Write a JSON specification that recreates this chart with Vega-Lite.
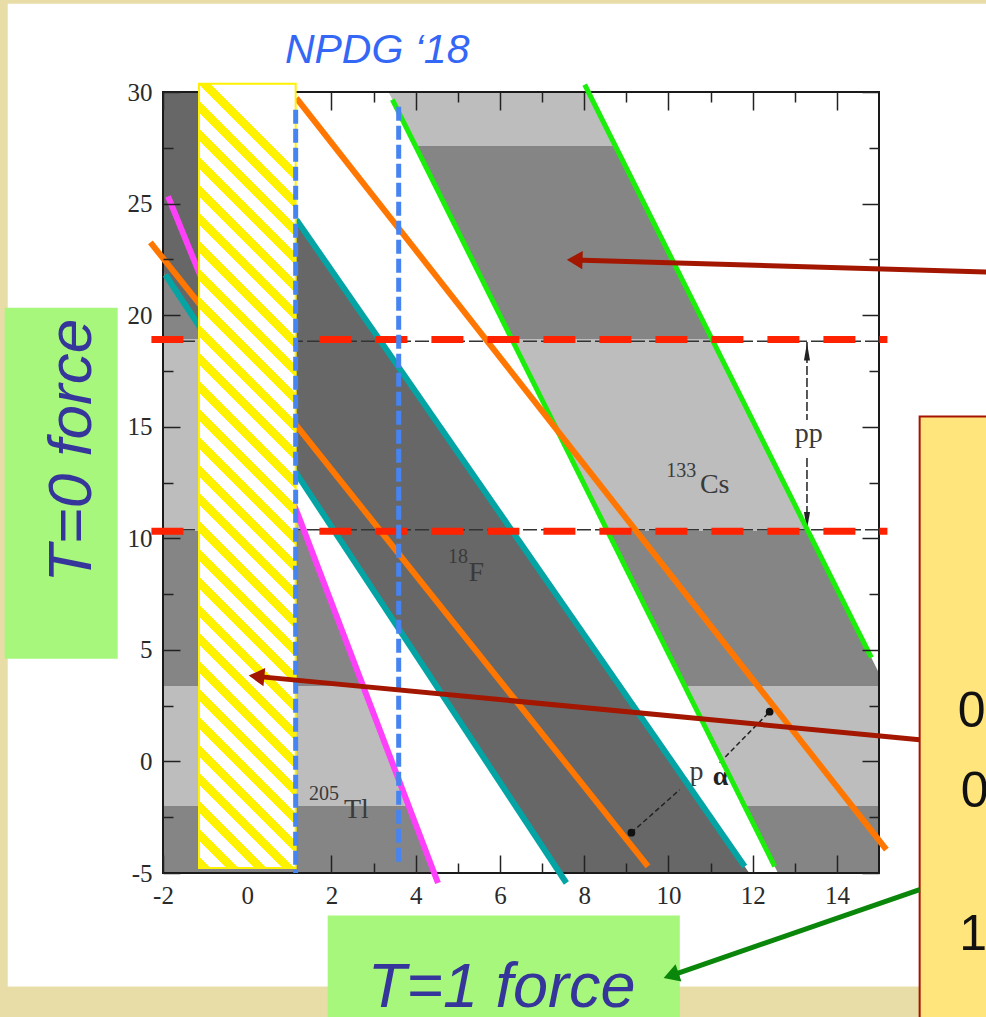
{
"$schema":"https://vega.github.io/schema/vega-lite/v6.json",
"width":716,"height":781,
"autosize":{"type":"none"},
"padding":{"left":163,"top":92,"right":107,"bottom":144},
"background":"#e8dca7",
"config":{"view":{"stroke":null},"axis":{"grid":false,"domain":false}},
"datasets":{
"slide":[{"x":-5.687,"x2":18.5,"y":33.96,"y2":-10.082}],
"tl":[{"y":-5,"x":-2,"x2":4.439},{"y":11.057,"x":-2,"x2":1.205},{"y":25.32,"x":-2,"x2":-1.881},{"y":25.87,"x":-2,"x2":-2}],
"cs":[{"y":-5,"x":12.601,"x2":15},{"y":3.965,"x":10.233,"x2":15},{"y":30,"x":3.355,"x2":8.099}],
"f18":[{"y":-5,"x":7.42,"x2":11.919},{"y":21.973,"x":-2,"x2":2.013},{"y":30,"x":-2,"x2":-0.935}],
"frame":[{"x":-2,"x2":15,"y":-5,"y2":30}],
"ppl":[{"x":-2,"x2":15,"y":18.83},{"x":-2,"x2":15,"y":10.38}],
"pparrow":[{"x":13.29,"y":18.8,"y2":15.3},{"x":13.29,"y":13.6,"y2":10.4}],
"ppheads":[{"x":13.29,"y":18.36,"d":"up"},{"x":13.29,"y":10.79,"d":"down"}],
"pa":[{"x":9.121,"y":-3.194,"x2":10.267,"y2":-1.267},{"x":11.217,"y":-0.056,"x2":12.404,"y2":2.231}],
"paheads":[{"x":9.121,"y":-3.194},{"x":12.404,"y":2.231}],
"lbig":[{"t":"pp","x":13.33,"y":14.337},{"t":"Cs","x":11.098,"y":12.044},{"t":"F","x":5.441,"y":8.068},{"t":"Tl","x":2.592,"y":-2.535},{"t":"p","x":10.664,"y":-0.819}],
"lsmall":[{"t":"133","x":10.303,"y":12.76},{"t":"18","x":5.004,"y":8.892},{"t":"205","x":1.82,"y":-1.715}],
"lbold":[{"t":"α","x":11.236,"y":-1.043}],
"green":[{"s":"gL","x":3.446,"y":29.655},{"s":"gL","x":12.523,"y":-4.705},{"s":"gR","x":8.012,"y":30.327},{"s":"gR","x":14.819,"y":4.648}],
"orange":[{"s":"oU","x":1.167,"y":29.73},{"s":"oU","x":15.175,"y":-3.956},{"s":"oM","x":-2.299,"y":23.26},{"s":"oM","x":9.515,"y":-4.705}],
"teal":[{"s":"tL","x":-1.943,"y":21.81},{"s":"tL","x":7.577,"y":-5.449},{"s":"tU","x":1.167,"y":24.277},{"s":"tU","x":11.811,"y":-4.705}],
"magenta":[{"s":"m","x":-1.881,"y":25.32},{"s":"m","x":1.205,"y":11.057},{"s":"m","x":4.529,"y":-5.449}],
"red":[{"x":-2.275,"x2":15.2,"y":18.91},{"x":-2.275,"x2":15.2,"y":10.31}],
"ybox":[{"x":-1.145,"x2":1.15,"y":30.37,"y2":-4.78}],
"blue":[{"x":1.15,"y":29.2,"y2":-5.0},{"x":3.596,"y":29.34,"y2":-4.72}],
"gboxes":[{"x":-5.758,"x2":-3.076,"y":20.33,"y2":4.6},{"x":1.91,"x2":10.27,"y":-6.91,"y2":-12}],
"nbox":[{"x":15.965,"x2":18.5,"y":15.46,"y2":-12}],
"ntext":[{"t":"0","x":16.87,"y":1.556},{"t":"0","x":16.94,"y":-2.03},{"t":"1","x":16.903,"y":-8.44}],
"t0":[{"t":"T=0 force","x":-3.7,"y":13.93}],
"t1":[{"t":"T=1 force","x":6.041,"y":-10.99}],
"npdg":[{"t":"NPDG ‘18","x":3.085,"y":31.313}],
"shafts":[{"x":17.9,"y":21.91,"x2":7.774,"y2":22.476,"c":"r"},{"x":15.965,"y":0.974,"x2":0.22,"y2":3.812,"c":"r"},{"x":15.965,"y":-5.749,"x2":10.063,"y2":-9.594,"c":"g"}],
"heads":[{"x":7.774,"y":22.476,"a":1.8,"c":"r"},{"x":0.22,"y":3.812,"a":5.5,"c":"r"},{"x":10.063,"y":-9.594,"a":-19,"c":"g"}]
},
"layer":[
{"data":{"name":"slide"},"mark":{"type":"rect","fill":"#ffffff"},
 "encoding":{
  "x":{"field":"x","type":"quantitative","scale":{"domain":[-2,15],"nice":false,"zero":false},
   "axis":{"orient":"bottom","values":[-2,0,2,4,6,8,10,12,14],"ticks":false,"domain":false,"grid":false,"title":null,"labelFont":"Liberation Serif","labelFontSize":25,"labelColor":"#2a2a2a","labelPadding":10,"labelFlush":false,"labelOverlap":false,"labelExpr":"replace(datum.label, '−', '-')","zindex":1}},
  "x2":{"field":"x2"},
  "y":{"field":"y","type":"quantitative","scale":{"domain":[-5,30],"nice":false,"zero":false},
   "axis":{"orient":"left","values":[-5,0,5,10,15,20,25,30],"ticks":false,"domain":false,"grid":false,"title":null,"labelFont":"Liberation Serif","labelFontSize":25,"labelColor":"#2a2a2a","labelPadding":11,"labelFlush":false,"labelOverlap":false,"labelExpr":"replace(datum.label, '−', '-')","zindex":1}},
  "y2":{"field":"y2"}}},
{"data":{"name":"tl"},"mark":{"type":"area","orient":"horizontal","fill":{"gradient":"linear","x1":0,"y1":0,"x2":0,"y2":1,"stops":[{"offset":0,"color":"#858585"},{"offset":0.2255,"color":"#858585"},{"offset":0.2255,"color":"#bdbdbd"},{"offset":0.5041,"color":"#bdbdbd"},{"offset":0.5041,"color":"#858585"},{"offset":0.7279,"color":"#858585"},{"offset":0.7279,"color":"#bdbdbd"},{"offset":0.9028,"color":"#bdbdbd"},{"offset":0.9028,"color":"#858585"},{"offset":1,"color":"#858585"}]}},
 "encoding":{
  "y":{"field":"y","type":"quantitative","axis":{"orient":"left","values":[-2.5,2.5,7.5,12.5,17.5,22.5,27.5],"labels":false,"domain":false,"grid":false,"title":null,"tickSize":-10,"tickWidth":1.5,"tickColor":"#222","zindex":1}},
  "x":{"field":"x","type":"quantitative","axis":{"orient":"bottom","values":[3,5,7,9,11,13],"labels":false,"domain":false,"grid":false,"title":null,"tickSize":-10,"tickWidth":1.5,"tickColor":"#222","zindex":1}},
  "x2":{"field":"x2"}}},
{"data":{"name":"cs"},"mark":{"type":"area","orient":"horizontal","fill":{"gradient":"linear","x1":0,"y1":0,"x2":0,"y2":1,"stops":[{"offset":0,"color":"#bdbdbd"},{"offset":0.0686,"color":"#bdbdbd"},{"offset":0.0686,"color":"#858585"},{"offset":0.3169,"color":"#858585"},{"offset":0.3169,"color":"#bdbdbd"},{"offset":0.5626,"color":"#bdbdbd"},{"offset":0.5626,"color":"#858585"},{"offset":0.76,"color":"#858585"},{"offset":0.76,"color":"#bdbdbd"},{"offset":0.9143,"color":"#bdbdbd"},{"offset":0.9143,"color":"#858585"},{"offset":1,"color":"#858585"}]}},
 "encoding":{
  "y":{"field":"y","type":"quantitative","axis":{"orient":"left","values":[-5,0,5,10,15,20,25,30],"labels":false,"domain":false,"grid":false,"title":null,"tickSize":-17,"tickWidth":1.5,"tickColor":"#222","zindex":1}},
  "x":{"field":"x","type":"quantitative","axis":{"orient":"bottom","values":[-2,2,4,6,8,10,12,14],"labels":false,"domain":false,"grid":false,"title":null,"tickSize":-18,"tickWidth":1.5,"tickColor":"#222","zindex":1}},
  "x2":{"field":"x2"}}},
{"data":{"name":"f18"},"mark":{"type":"area","orient":"horizontal","fill":"#676767"},
 "encoding":{
  "y":{"field":"y","type":"quantitative","axis":{"orient":"right","values":[-5,0,5,10,15,20,25,30],"labels":false,"domain":false,"grid":false,"title":null,"tickSize":-17,"tickWidth":1.5,"tickColor":"#222","zindex":1}},
  "x":{"field":"x","type":"quantitative","axis":{"orient":"top","values":[-2,2,4,6,8,10,12,14],"labels":false,"domain":false,"grid":false,"title":null,"tickSize":-18,"tickWidth":1.5,"tickColor":"#222","zindex":1}},
  "x2":{"field":"x2"}}},
{"data":{"name":"frame"},"mark":{"type":"rect","filled":false,"stroke":"#1a1a1a","strokeWidth":2},
 "encoding":{
  "x":{"field":"x","type":"quantitative","axis":{"orient":"top","values":[3,5,7,9,11,13],"labels":false,"domain":false,"grid":false,"title":null,"tickSize":-10,"tickWidth":1.5,"tickColor":"#222","zindex":1}},
  "x2":{"field":"x2"},
  "y":{"field":"y","type":"quantitative","axis":{"orient":"right","values":[-2.5,2.5,7.5,12.5,17.5,22.5,27.5],"labels":false,"domain":false,"grid":false,"title":null,"tickSize":-10,"tickWidth":1.5,"tickColor":"#222","zindex":1}},
  "y2":{"field":"y2"}}},
{"data":{"name":"ppl"},"mark":{"type":"rule","color":"#333333","strokeWidth":1.5,"strokeDash":[14,4]},
 "encoding":{"x":{"field":"x","type":"quantitative","axis":null},"x2":{"field":"x2"},"y":{"field":"y","type":"quantitative","axis":null}}},
{"data":{"name":"pparrow"},"mark":{"type":"rule","color":"#222222","strokeWidth":1.5,"strokeDash":[9,3]},
 "encoding":{"x":{"field":"x","type":"quantitative","axis":null},"y":{"field":"y","type":"quantitative","axis":null},"y2":{"field":"y2"}}},
{"data":{"name":"ppheads"},"mark":{"type":"point","filled":true,"size":300,"color":"#222222","opacity":1},
 "encoding":{"x":{"field":"x","type":"quantitative","axis":null},"y":{"field":"y","type":"quantitative","axis":null},
  "shape":{"field":"d","type":"nominal","scale":{"domain":["up","down"],"range":["M0,-1L0.35,1L-0.35,1Z","M0,1L0.35,-1L-0.35,-1Z"]},"legend":null}}},
{"data":{"name":"pa"},"mark":{"type":"rule","color":"#222222","strokeWidth":1.5,"strokeDash":[5,3]},
 "encoding":{"x":{"field":"x","type":"quantitative","axis":null},"x2":{"field":"x2"},"y":{"field":"y","type":"quantitative","axis":null},"y2":{"field":"y2"}}},
{"data":{"name":"paheads"},"mark":{"type":"point","filled":true,"size":60,"color":"#111111","opacity":1},
 "encoding":{"x":{"field":"x","type":"quantitative","axis":null},"y":{"field":"y","type":"quantitative","axis":null}}},
{"data":{"name":"lbig"},"mark":{"type":"text","font":"Liberation Serif","fontSize":28,"color":"#3a3a3a","align":"center","baseline":"alphabetic"},
 "encoding":{"x":{"field":"x","type":"quantitative","axis":null},"y":{"field":"y","type":"quantitative","axis":null},"text":{"field":"t"}}},
{"data":{"name":"lsmall"},"mark":{"type":"text","font":"Liberation Serif","fontSize":20,"color":"#3a3a3a","align":"center","baseline":"alphabetic"},
 "encoding":{"x":{"field":"x","type":"quantitative","axis":null},"y":{"field":"y","type":"quantitative","axis":null},"text":{"field":"t"}}},
{"data":{"name":"lbold"},"mark":{"type":"text","font":"Liberation Serif","fontSize":28,"fontWeight":"bold","color":"#222222","align":"center","baseline":"alphabetic"},
 "encoding":{"x":{"field":"x","type":"quantitative","axis":null},"y":{"field":"y","type":"quantitative","axis":null},"text":{"field":"t"}}},
{"data":{"name":"green"},"mark":{"type":"line","color":"#1aee0a","strokeWidth":5},
 "encoding":{"x":{"field":"x","type":"quantitative","axis":null},"y":{"field":"y","type":"quantitative","axis":null},"detail":{"field":"s"}}},
{"data":{"name":"orange"},"mark":{"type":"line","color":"#ff7700","strokeWidth":6},
 "encoding":{"x":{"field":"x","type":"quantitative","axis":null},"y":{"field":"y","type":"quantitative","axis":null},"detail":{"field":"s"}}},
{"data":{"name":"teal"},"mark":{"type":"line","color":"#04a4a4","strokeWidth":6},
 "encoding":{"x":{"field":"x","type":"quantitative","axis":null},"y":{"field":"y","type":"quantitative","axis":null},"detail":{"field":"s"}}},
{"data":{"name":"magenta"},"mark":{"type":"line","color":"#ff40fa","strokeWidth":6},
 "encoding":{"x":{"field":"x","type":"quantitative","axis":null},"y":{"field":"y","type":"quantitative","axis":null},"detail":{"field":"s"}}},
{"data":{"name":"red"},"mark":{"type":"rule","color":"#ff2200","strokeWidth":7,"strokeDash":[32,24]},
 "encoding":{"x":{"field":"x","type":"quantitative","axis":null},"x2":{"field":"x2"},"y":{"field":"y","type":"quantitative","axis":null}}},
{"data":{"name":"ybox"},"mark":{"type":"rect","stroke":"#fff200","strokeWidth":2,"fill":{"gradient":"linear","x1":0,"y1":1,"x2":0.12336,"y2":0,"stops":[
{"offset":0,"color":"#fff200"},{"offset":0.01506,"color":"#fff200"},{"offset":0.01506,"color":"#ffffff"},{"offset":0.03515,"color":"#ffffff"},
{"offset":0.03515,"color":"#fff200"},{"offset":0.05021,"color":"#fff200"},{"offset":0.05021,"color":"#ffffff"},{"offset":0.0703,"color":"#ffffff"},
{"offset":0.0703,"color":"#fff200"},{"offset":0.08536,"color":"#fff200"},{"offset":0.08536,"color":"#ffffff"},{"offset":0.10544,"color":"#ffffff"},
{"offset":0.10544,"color":"#fff200"},{"offset":0.1205,"color":"#fff200"},{"offset":0.1205,"color":"#ffffff"},{"offset":0.14059,"color":"#ffffff"},
{"offset":0.14059,"color":"#fff200"},{"offset":0.15565,"color":"#fff200"},{"offset":0.15565,"color":"#ffffff"},{"offset":0.17574,"color":"#ffffff"},
{"offset":0.17574,"color":"#fff200"},{"offset":0.1908,"color":"#fff200"},{"offset":0.1908,"color":"#ffffff"},{"offset":0.21089,"color":"#ffffff"},
{"offset":0.21089,"color":"#fff200"},{"offset":0.22595,"color":"#fff200"},{"offset":0.22595,"color":"#ffffff"},{"offset":0.24604,"color":"#ffffff"},
{"offset":0.24604,"color":"#fff200"},{"offset":0.2611,"color":"#fff200"},{"offset":0.2611,"color":"#ffffff"},{"offset":0.28118,"color":"#ffffff"},
{"offset":0.28118,"color":"#fff200"},{"offset":0.29624,"color":"#fff200"},{"offset":0.29624,"color":"#ffffff"},{"offset":0.31633,"color":"#ffffff"},
{"offset":0.31633,"color":"#fff200"},{"offset":0.33139,"color":"#fff200"},{"offset":0.33139,"color":"#ffffff"},{"offset":0.35148,"color":"#ffffff"},
{"offset":0.35148,"color":"#fff200"},{"offset":0.36654,"color":"#fff200"},{"offset":0.36654,"color":"#ffffff"},{"offset":0.38663,"color":"#ffffff"},
{"offset":0.38663,"color":"#fff200"},{"offset":0.40169,"color":"#fff200"},{"offset":0.40169,"color":"#ffffff"},{"offset":0.42178,"color":"#ffffff"},
{"offset":0.42178,"color":"#fff200"},{"offset":0.43684,"color":"#fff200"},{"offset":0.43684,"color":"#ffffff"},{"offset":0.45692,"color":"#ffffff"},
{"offset":0.45692,"color":"#fff200"},{"offset":0.47198,"color":"#fff200"},{"offset":0.47198,"color":"#ffffff"},{"offset":0.49207,"color":"#ffffff"},
{"offset":0.49207,"color":"#fff200"},{"offset":0.50713,"color":"#fff200"},{"offset":0.50713,"color":"#ffffff"},{"offset":0.52722,"color":"#ffffff"},
{"offset":0.52722,"color":"#fff200"},{"offset":0.54228,"color":"#fff200"},{"offset":0.54228,"color":"#ffffff"},{"offset":0.56237,"color":"#ffffff"},
{"offset":0.56237,"color":"#fff200"},{"offset":0.57743,"color":"#fff200"},{"offset":0.57743,"color":"#ffffff"},{"offset":0.59752,"color":"#ffffff"},
{"offset":0.59752,"color":"#fff200"},{"offset":0.61258,"color":"#fff200"},{"offset":0.61258,"color":"#ffffff"},{"offset":0.63266,"color":"#ffffff"},
{"offset":0.63266,"color":"#fff200"},{"offset":0.64772,"color":"#fff200"},{"offset":0.64772,"color":"#ffffff"},{"offset":0.66781,"color":"#ffffff"},
{"offset":0.66781,"color":"#fff200"},{"offset":0.68287,"color":"#fff200"},{"offset":0.68287,"color":"#ffffff"},{"offset":0.70296,"color":"#ffffff"},
{"offset":0.70296,"color":"#fff200"},{"offset":0.71802,"color":"#fff200"},{"offset":0.71802,"color":"#ffffff"},{"offset":0.73811,"color":"#ffffff"},
{"offset":0.73811,"color":"#fff200"},{"offset":0.75317,"color":"#fff200"},{"offset":0.75317,"color":"#ffffff"},{"offset":0.77326,"color":"#ffffff"},
{"offset":0.77326,"color":"#fff200"},{"offset":0.78832,"color":"#fff200"},{"offset":0.78832,"color":"#ffffff"},{"offset":0.8084,"color":"#ffffff"},
{"offset":0.8084,"color":"#fff200"},{"offset":0.82346,"color":"#fff200"},{"offset":0.82346,"color":"#ffffff"},{"offset":0.84355,"color":"#ffffff"},
{"offset":0.84355,"color":"#fff200"},{"offset":0.85861,"color":"#fff200"},{"offset":0.85861,"color":"#ffffff"},{"offset":0.8787,"color":"#ffffff"},
{"offset":0.8787,"color":"#fff200"},{"offset":0.89376,"color":"#fff200"},{"offset":0.89376,"color":"#ffffff"},{"offset":0.91385,"color":"#ffffff"},
{"offset":0.91385,"color":"#fff200"},{"offset":0.92891,"color":"#fff200"},{"offset":0.92891,"color":"#ffffff"},{"offset":0.949,"color":"#ffffff"},
{"offset":0.949,"color":"#fff200"},{"offset":0.96406,"color":"#fff200"},{"offset":0.96406,"color":"#ffffff"},{"offset":0.98414,"color":"#ffffff"},
{"offset":0.98414,"color":"#fff200"},{"offset":0.9992,"color":"#fff200"},{"offset":0.9992,"color":"#ffffff"},{"offset":1,"color":"#ffffff"}]}},
 "encoding":{"x":{"field":"x","type":"quantitative","axis":null},"x2":{"field":"x2"},"y":{"field":"y","type":"quantitative","axis":null},"y2":{"field":"y2"}}},
{"data":{"name":"blue"},"mark":{"type":"rule","color":"#4684f2","strokeWidth":5,"strokeDash":[14,5]},
 "encoding":{"x":{"field":"x","type":"quantitative","axis":null},"y":{"field":"y","type":"quantitative","axis":null},"y2":{"field":"y2"}}},
{"data":{"name":"gboxes"},"mark":{"type":"rect","fill":"#a6f77b"},
 "encoding":{"x":{"field":"x","type":"quantitative","axis":null},"x2":{"field":"x2"},"y":{"field":"y","type":"quantitative","axis":null},"y2":{"field":"y2"}}},
{"data":{"name":"nbox"},"mark":{"type":"rect","fill":"#ffe57c","stroke":"#a51400","strokeWidth":2},
 "encoding":{"x":{"field":"x","type":"quantitative","axis":null},"x2":{"field":"x2"},"y":{"field":"y","type":"quantitative","axis":null},"y2":{"field":"y2"}}},
{"data":{"name":"ntext"},"mark":{"type":"text","font":"Liberation Sans","fontSize":50,"color":"#111111","align":"left","baseline":"alphabetic"},
 "encoding":{"x":{"field":"x","type":"quantitative","axis":null},"y":{"field":"y","type":"quantitative","axis":null},"text":{"field":"t"}}},
{"data":{"name":"t0"},"mark":{"type":"text","font":"Liberation Sans","fontStyle":"italic","fontSize":62,"color":"#35359b","align":"center","baseline":"alphabetic","angle":270},
 "encoding":{"x":{"field":"x","type":"quantitative","axis":null},"y":{"field":"y","type":"quantitative","axis":null},"text":{"field":"t"}}},
{"data":{"name":"t1"},"mark":{"type":"text","font":"Liberation Sans","fontStyle":"italic","fontSize":63,"color":"#35359b","align":"center","baseline":"alphabetic"},
 "encoding":{"x":{"field":"x","type":"quantitative","axis":null},"y":{"field":"y","type":"quantitative","axis":null},"text":{"field":"t"}}},
{"data":{"name":"npdg"},"mark":{"type":"text","font":"Liberation Sans","fontStyle":"italic","fontSize":41,"color":"#3467f5","align":"center","baseline":"alphabetic"},
 "encoding":{"x":{"field":"x","type":"quantitative","axis":null},"y":{"field":"y","type":"quantitative","axis":null},"text":{"field":"t"}}},
{"data":{"name":"shafts"},"mark":{"type":"rule","strokeWidth":5},
 "encoding":{"x":{"field":"x","type":"quantitative","axis":null},"x2":{"field":"x2"},"y":{"field":"y","type":"quantitative","axis":null},"y2":{"field":"y2"},
  "color":{"field":"c","type":"nominal","scale":{"domain":["r","g"],"range":["#a31600","#0a870a"]},"legend":null}}},
{"data":{"name":"heads"},"mark":{"type":"point","shape":"triangle-left","filled":true,"size":330,"opacity":1,"strokeWidth":0},
 "encoding":{"x":{"field":"x","type":"quantitative","axis":null},"y":{"field":"y","type":"quantitative","axis":null},
  "angle":{"field":"a","type":"quantitative","scale":null},
  "color":{"field":"c","type":"nominal","scale":{"domain":["r","g"],"range":["#a31600","#0a870a"]},"legend":null}}}
],
"resolve":{"axis":{"x":"independent","y":"independent"}}
}
